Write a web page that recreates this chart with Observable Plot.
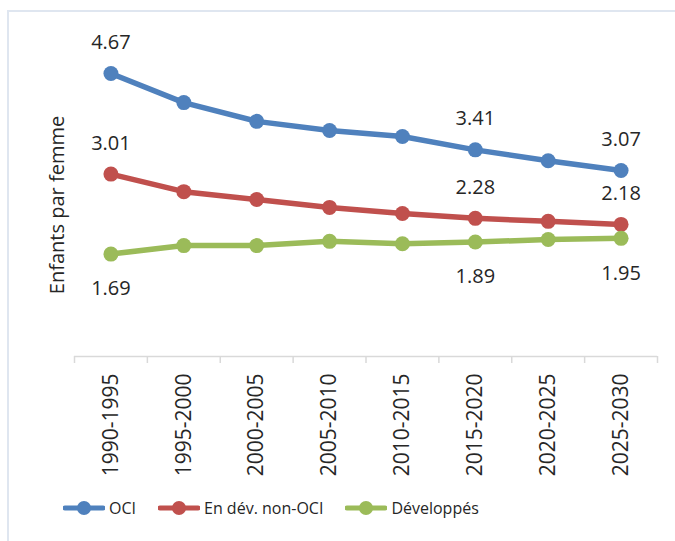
<!DOCTYPE html>
<html>
<head>
<meta charset="utf-8">
<script src="https://cdn.jsdelivr.net/npm/d3@7"></script>
<script src="https://cdn.jsdelivr.net/npm/@observablehq/plot@0.6"></script>
<style>
  html, body { margin: 0; padding: 0; background: #fff; }
  #wrap { position: relative; width: 675px; height: 541px; overflow: hidden; font-family: "Open Sans", sans-serif; color: #262626; }
  #frame { position: absolute; left: 7px; top: 10px; width: 720px; height: 620px; border: 2px solid #dfe6f0; box-sizing: border-box; }
  #chart { position: absolute; left: 0; top: 0; }
  #legend { position: absolute; left: 63px; top: 497px; display: flex; align-items: center; font-size: 16px; }
  .item { display: flex; align-items: center; margin-right: 22px; }
  .item svg { margin-right: 4px; }
</style>
</head>
<body>
<div id="wrap">
  <div id="frame"></div>
  <div id="chart"></div>
  <div id="legend"></div>
</div>
<script>
const categories = ["1990-1995", "1995-2000", "2000-2005", "2005-2010", "2010-2015", "2015-2020", "2020-2025", "2025-2030"];
const oci       = [4.67, 4.19, 3.88, 3.73, 3.63, 3.41, 3.23, 3.07];
const nonOci    = [3.01, 2.72, 2.59, 2.46, 2.36, 2.28, 2.23, 2.18];
const developed = [1.69, 1.83, 1.83, 1.90, 1.86, 1.89, 1.93, 1.95];
const seriesNames = ["OCI", "En dév. non-OCI", "Développés"];
const seriesColors = ["#4f81bd", "#c0504d", "#9bbb59"];
const labelIndices = [0, 5, 7];

const seriesValues = [oci, nonOci, developed];
const data = seriesNames.flatMap((s, k) => seriesValues[k].map((v, i) => ({series: s, i, v})));
const labelsAbove = data.filter(d => d.series !== "Développés" && labelIndices.includes(d.i));
const labelsBelow = data.filter(d => d.series === "Développés" && labelIndices.includes(d.i));

const chart = Plot.plot({
  width: 675,
  height: 490,
  marginLeft: 74,
  marginRight: 18,
  marginTop: 53,
  marginBottom: 134,
  style: {fontFamily: "Open Sans, sans-serif", color: "#262626", background: "transparent", overflow: "visible"},
  x: {type: "linear", domain: [-0.5, categories.length - 0.5], label: null},
  y: {domain: [0, 5], axis: null},
  color: {domain: seriesNames, range: seriesColors},
  marks: [
    Plot.ruleY([0], {stroke: "#d9d9d9", strokeWidth: 1.5}),
    Plot.axisX({ticks: d3.range(-0.5, categories.length, 1), tickSize: 7, tickFormat: () => "", stroke: "#d9d9d9", strokeWidth: 1.5, label: null}),
    Plot.axisX({ticks: d3.range(categories.length), tickSize: 0, tickPadding: 17, tickRotate: -90, tickFormat: i => categories[i], fontSize: 21, fill: "#262626", label: null}),
    Plot.text(["Enfants par femme"], {frameAnchor: "left", textAnchor: "middle", rotate: -90, dx: -17, fontSize: 20, fill: "#262626"}),
    Plot.line(data, {x: "i", y: "v", z: "series", stroke: "series", strokeWidth: 5.5, strokeLinecap: "round", strokeLinejoin: "round"}),
    Plot.dot(data, {x: "i", y: "v", fill: "series", r: 7.5}),
    Plot.text(labelsAbove, {x: "i", y: "v", text: d => d.v.toFixed(2), dy: -31, fontSize: 20, fill: "#262626"}),
    Plot.text(labelsBelow, {x: "i", y: "v", text: d => d.v.toFixed(2), dy: 35, fontSize: 20, fill: "#262626"})
  ]
});
document.getElementById("chart").append(chart);

const legend = d3.select("#legend");
seriesNames.forEach((name, k) => {
  const item = legend.append("div").attr("class", "item");
  const svg = item.append("svg").attr("width", 42).attr("height", 18);
  svg.append("line").attr("x1", 2).attr("x2", 40).attr("y1", 9).attr("y2", 9)
    .attr("stroke", seriesColors[k]).attr("stroke-width", 5).attr("stroke-linecap", "round");
  svg.append("circle").attr("cx", 21).attr("cy", 9).attr("r", 7).attr("fill", seriesColors[k]);
  item.append("span").text(name);
});
</script>
</body>
</html>
